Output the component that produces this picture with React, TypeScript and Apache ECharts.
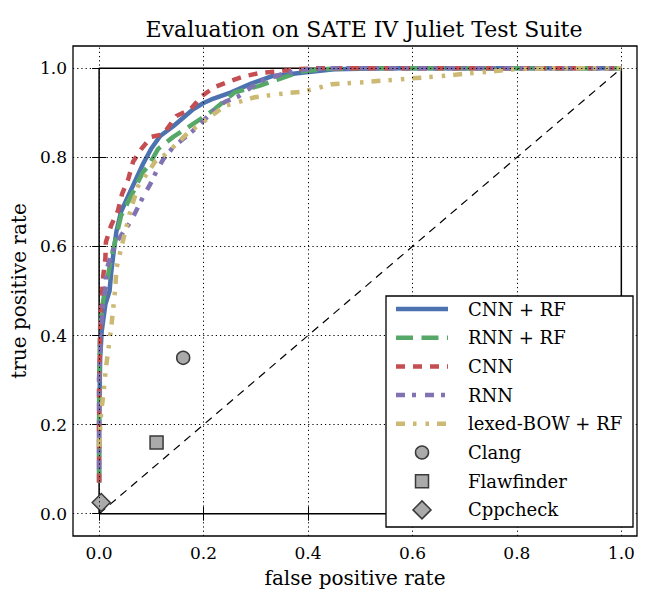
import React, { useEffect, useRef } from "react";
import * as echarts from "echarts";

const TITLE = "Evaluation on SATE IV Juliet Test Suite";
const X_NAME = "false positive rate";
const Y_NAME = "true positive rate";
const X_TICKS = [0, 0.2, 0.4, 0.6, 0.8, 1.0];
const Y_TICKS = [0, 0.2, 0.4, 0.6, 0.8, 1.0];

const cnnRf: [number, number][] = [
  [0, 0.07], [0, 0.2], [0.002, 0.35], [0.005, 0.41], [0.012, 0.47], [0.02, 0.5],
  [0.023, 0.54], [0.027, 0.58], [0.033, 0.633], [0.042, 0.678], [0.056, 0.714],
  [0.071, 0.752], [0.084, 0.785], [0.1, 0.82], [0.117, 0.848], [0.142, 0.87],
  [0.165, 0.893], [0.18, 0.908], [0.2, 0.922], [0.215, 0.93], [0.253, 0.946],
  [0.29, 0.965], [0.33, 0.982], [0.388, 0.99], [0.45, 0.998], [0.55, 1], [1, 1],
];
const rnnRf: [number, number][] = [
  [0, 0.07], [0, 0.3], [0.002, 0.42], [0.008, 0.48], [0.017, 0.535], [0.023, 0.573],
  [0.033, 0.624], [0.042, 0.669], [0.065, 0.722], [0.084, 0.767], [0.094, 0.78],
  [0.113, 0.819], [0.142, 0.846], [0.18, 0.875], [0.194, 0.886], [0.221, 0.908],
  [0.26, 0.946], [0.305, 0.96], [0.343, 0.975], [0.388, 0.993], [0.43, 0.998],
  [0.5, 1], [1, 1],
];
const cnn: [number, number][] = [
  [0, 0.07], [0, 0.3], [0.003, 0.45], [0.006, 0.5], [0.008, 0.535], [0.012, 0.573],
  [0.013, 0.61], [0.023, 0.647], [0.036, 0.68], [0.044, 0.718], [0.056, 0.752],
  [0.065, 0.79], [0.081, 0.819], [0.1, 0.846], [0.123, 0.852], [0.148, 0.893],
  [0.175, 0.908], [0.196, 0.937], [0.22, 0.957], [0.25, 0.971], [0.278, 0.982],
  [0.31, 0.99], [0.343, 0.993], [0.375, 0.998], [0.42, 1], [1, 1],
];
const rnn: [number, number][] = [
  [0, 0.1], [0, 0.3], [0.004, 0.416], [0.008, 0.48], [0.013, 0.512], [0.013, 0.543],
  [0.021, 0.573], [0.031, 0.606], [0.06, 0.655], [0.071, 0.68], [0.084, 0.711],
  [0.098, 0.74], [0.109, 0.767], [0.123, 0.796], [0.142, 0.823], [0.18, 0.86],
  [0.215, 0.9], [0.24, 0.924], [0.267, 0.937], [0.305, 0.969], [0.35, 0.987],
  [0.4, 0.998], [0.45, 1], [1, 1],
];
const lexedBow: [number, number][] = [
  [0, 0.15], [0.004, 0.23], [0.008, 0.266], [0.013, 0.327], [0.023, 0.416],
  [0.031, 0.506], [0.033, 0.55], [0.042, 0.595], [0.05, 0.633], [0.061, 0.685],
  [0.075, 0.736], [0.094, 0.767], [0.107, 0.79], [0.123, 0.803], [0.142, 0.823],
  [0.17, 0.855], [0.2, 0.88], [0.24, 0.915], [0.298, 0.935], [0.343, 0.942],
  [0.393, 0.948], [0.445, 0.964], [0.509, 0.969], [0.574, 0.975], [0.65, 0.982],
  [0.733, 0.991], [0.797, 0.998], [0.86, 1], [1, 1],
];
const clang: [number, number][] = [[0.161, 0.35]];
const flawfinder: [number, number][] = [[0.11, 0.16]];
const cppcheck: [number, number][] = [[0.004, 0.025]];
const frameBox: [number, number][] = [[0, 0], [0, 1], [1, 1], [1, 0], [0, 0]];
const diagonal: [number, number][] = [[0, 0], [1, 1]];

const LINE_NAMES = ["CNN + RF", "RNN + RF", "CNN", "RNN", "lexed-BOW + RF"];
const MARKER_NAMES = ["Clang", "Flawfinder", "Cppcheck"];

const FONT = "DejaVu Serif";
const COLORS = ["#4C72B0", "#55A868", "#C44E52", "#8172B2", "#CCB974"];
const DASHES: any[] = [null, [17, 8.5], [9, 8], [9, 7, 4, 9], [9, 8, 3.5, 9, 3.5, 8]];
const MARKER_FILL = "#aaaaaa";
const MARKER_EDGE = "#3a3a3a";

export default function App() {
  const ref = useRef<HTMLDivElement>(null);
  useEffect(() => {
    if (!ref.current) return;
    const chart = echarts.init(ref.current, undefined, { renderer: "svg" });
    const tickFmt = (v: number) => {
      const ok = X_TICKS.some((t) => Math.abs(t - v) < 1e-6);
      return ok ? v.toFixed(1) : "";
    };
    const baseX = {
      type: "value" as const,
      min: -0.05,
      max: 1.03,
      axisLine: { show: false },
      splitLine: { show: false },
      axisTick: { inside: true, length: 7, customValues: X_TICKS, lineStyle: { color: "#000", width: 1 } },
    };
    const baseY = {
      type: "value" as const,
      min: -0.05,
      max: 1.05,
      axisLine: { show: false },
      splitLine: { show: false },
      axisTick: { inside: true, length: 7, customValues: Y_TICKS, lineStyle: { color: "#000", width: 1 } },
    };
    const lineSeries = (i: number, data: [number, number][]) => ({
      name: LINE_NAMES[i],
      type: "line",
      data,
      symbol: "none",
      showSymbol: false,
      z: 3,
      lineStyle: { color: COLORS[i], width: 4.5, type: DASHES[i] || "solid", cap: "butt", join: "round" },
      itemStyle: { color: COLORS[i] },
    });
    const markerSeries = (name: string, data: [number, number][], symbol: string, size: number) => ({
      name,
      type: "scatter",
      data,
      symbol,
      symbolSize: size,
      z: 4,
      itemStyle: { color: MARKER_FILL, borderColor: MARKER_EDGE, borderWidth: 1.5, opacity: 1 },
    });

    // Legend drawn with graphic elements
    const LX = 386, LY = 296, LW = 247, LH = 231;
    const rowY = (i: number) => 309 + i * 28.7;
    const iconX0 = 396, iconX1 = 448, iconCX = 422, textX = 468;
    const legendEls: any[] = [
      {
        type: "rect",
        z: 50,
        silent: true,
        shape: { x: LX, y: LY, width: LW, height: LH },
        style: { fill: "#fff", stroke: "#000", lineWidth: 1.3 },
      },
    ];
    LINE_NAMES.forEach((name, i) => {
      legendEls.push({
        type: "line",
        z: 51,
        silent: true,
        shape: { x1: iconX0, y1: rowY(i), x2: iconX1, y2: rowY(i) },
        style: { stroke: COLORS[i], lineWidth: 4.5, lineDash: DASHES[i] || null, lineCap: "butt" },
      });
    });
    const mStyle = { fill: MARKER_FILL, stroke: MARKER_EDGE, lineWidth: 1.5 };
    legendEls.push({ type: "circle", z: 51, silent: true, shape: { cx: iconCX, cy: rowY(5), r: 6.5 }, style: mStyle });
    legendEls.push({ type: "rect", z: 51, silent: true, shape: { x: iconCX - 6.5, y: rowY(6) - 6.5, width: 13, height: 13 }, style: mStyle });
    legendEls.push({
      type: "polygon",
      z: 51,
      silent: true,
      shape: { points: [[iconCX, rowY(7) - 9], [iconCX + 9, rowY(7)], [iconCX, rowY(7) + 9], [iconCX - 9, rowY(7)]] },
      style: mStyle,
    });
    [...LINE_NAMES, ...MARKER_NAMES].forEach((name, i) => {
      legendEls.push({
        type: "text",
        z: 52,
        silent: true,
        x: textX,
        y: rowY(i),
        style: {
          text: name,
          fill: "#000",
          font: `18px "${FONT}"`,
          textAlign: "left",
          textVerticalAlign: "middle",
          verticalAlign: "middle",
        },
      });
    });

    chart.setOption({
      animation: false,
      title: {
        text: TITLE,
        left: 359,
        textAlign: "center",
        top: 13,
        textStyle: { fontFamily: FONT, fontSize: 22, fontWeight: "normal", color: "#000" },
      },
      grid: {
        left: 73,
        right: 13,
        top: 46,
        bottom: 47,
        show: true,
        borderColor: "#000",
        borderWidth: 1.3,
        backgroundColor: "transparent",
      },
      xAxis: [
        {
          ...baseX,
          position: "bottom",
          name: X_NAME,
          nameLocation: "middle",
          nameGap: 32,
          nameTextStyle: { fontFamily: FONT, fontSize: 20, color: "#000" },
          axisLabel: {
            customValues: X_TICKS,
            formatter: tickFmt,
            fontFamily: FONT,
            fontSize: 17,
            color: "#000",
            margin: 8,
          },
        },
        { ...baseX, position: "top", axisLabel: { show: false } },
      ],
      yAxis: [
        {
          ...baseY,
          position: "left",
          name: Y_NAME,
          nameLocation: "middle",
          nameGap: 39,
          nameTextStyle: { fontFamily: FONT, fontSize: 20, color: "#000" },
          axisLabel: {
            customValues: Y_TICKS,
            formatter: tickFmt,
            fontFamily: FONT,
            fontSize: 17,
            color: "#000",
            margin: 6,
          },
        },
        { ...baseY, position: "right", axisLabel: { show: false } },
      ],
      graphic: legendEls,
      series: [
        {
          name: "_grid",
          type: "line",
          data: [],
          z: 1,
          silent: true,
          markLine: {
            silent: true,
            symbol: ["none", "none"],
            label: { show: false },
            lineStyle: { color: "#000", width: 1, type: [1.2, 3] },
            data: [
              ...X_TICKS.map((v) => ({ xAxis: v })),
              ...Y_TICKS.map((v) => ({ yAxis: v })),
            ],
          },
        },
        {
          name: "_frame",
          type: "line",
          data: frameBox,
          symbol: "none",
          z: 2,
          silent: true,
          lineStyle: { color: "#000", width: 1.5 },
        },
        {
          name: "_diag",
          type: "line",
          data: diagonal,
          symbol: "none",
          z: 2,
          silent: true,
          lineStyle: { color: "#000", width: 1.2, type: [8, 6] },
        },
        lineSeries(0, cnnRf),
        lineSeries(1, rnnRf),
        lineSeries(2, cnn),
        lineSeries(3, rnn),
        lineSeries(4, lexedBow),
        markerSeries(MARKER_NAMES[0], clang, "circle", 13),
        markerSeries(MARKER_NAMES[1], flawfinder, "rect", 13),
        markerSeries(MARKER_NAMES[2], cppcheck, "diamond", 18),
      ],
    });
    return () => chart.dispose();
  }, []);
  return (
    <div
      ref={ref}
      style={{ position: "fixed", left: 0, top: 0, width: 650, height: 593, background: "#fff" }}
    />
  );
}
